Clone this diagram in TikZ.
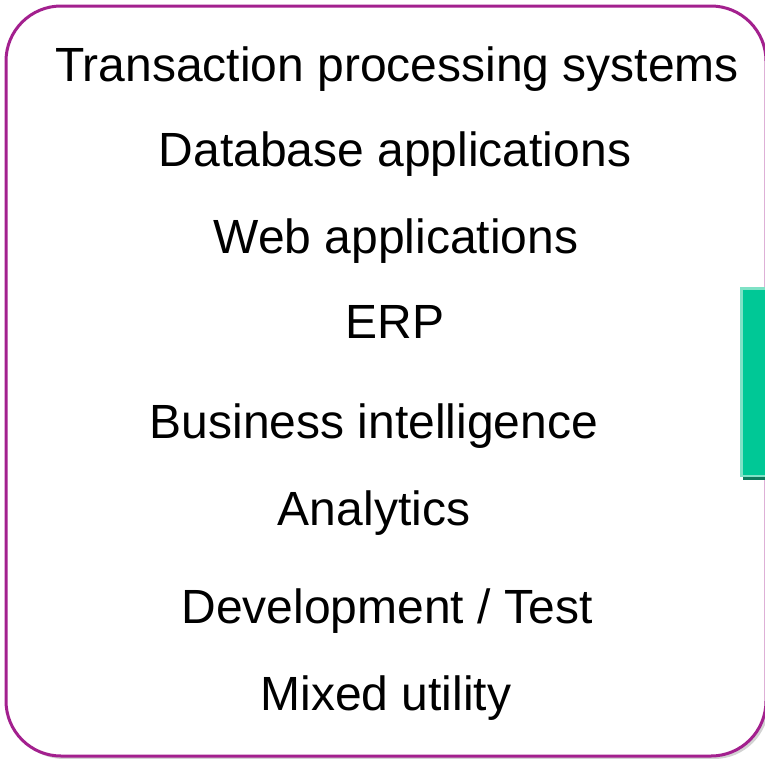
\documentclass[tikz,border=0pt]{standalone}
\usepackage{fontspec}
\setmainfont{Liberation Sans}
\usetikzlibrary{shadows}
\definecolor{boxpurple}{HTML}{A3208E}
\definecolor{tabgreen}{HTML}{00C896}
\definecolor{tablight}{HTML}{7FE2C6}
\definecolor{tabdark}{HTML}{0E7A5C}
\tikzset{
  item/.style={anchor=base, font=\fontsize{48}{56}\selectfont, inner sep=0pt, text=black},
}
\begin{document}
\begin{tikzpicture}[x=1pt,y=-1pt]
\clip (0,0) rectangle (765,758);
\fill[white] (0,0) rectangle (765,758);
% outer rounded frame
\node[draw=boxpurple, line width=3pt, fill=white, rounded corners=55pt,
      minimum width=760pt, minimum height=750pt, inner sep=0pt,
      drop shadow={opacity=0.35, shadow xshift=3pt, shadow yshift=-3pt}] (frame) at (386,381) {};
% green tab on the right
\fill[tabdark] (743,289) rectangle (770,480);
\fill[tablight] (740,287) rectangle (770,477);
\fill[tabgreen] (743,290) rectangle (770,475);
% items
\node[item] (t1) at (397,81) {Transaction processing systems};
\node[item] (t2) at (395,166) {Database applications};
\node[item] (t3) at (396,253) {Web applications};
\node[item] (t4) at (395,338) {ERP};
\node[item] (t5) at (374,438) {Business intelligence};
\node[item] (t6) at (374,525) {Analytics};
\node[item] (t7) at (387,623) {Development / Test};
\node[item] (t8) at (386,710) {Mixed utility};
\end{tikzpicture}
\end{document}
